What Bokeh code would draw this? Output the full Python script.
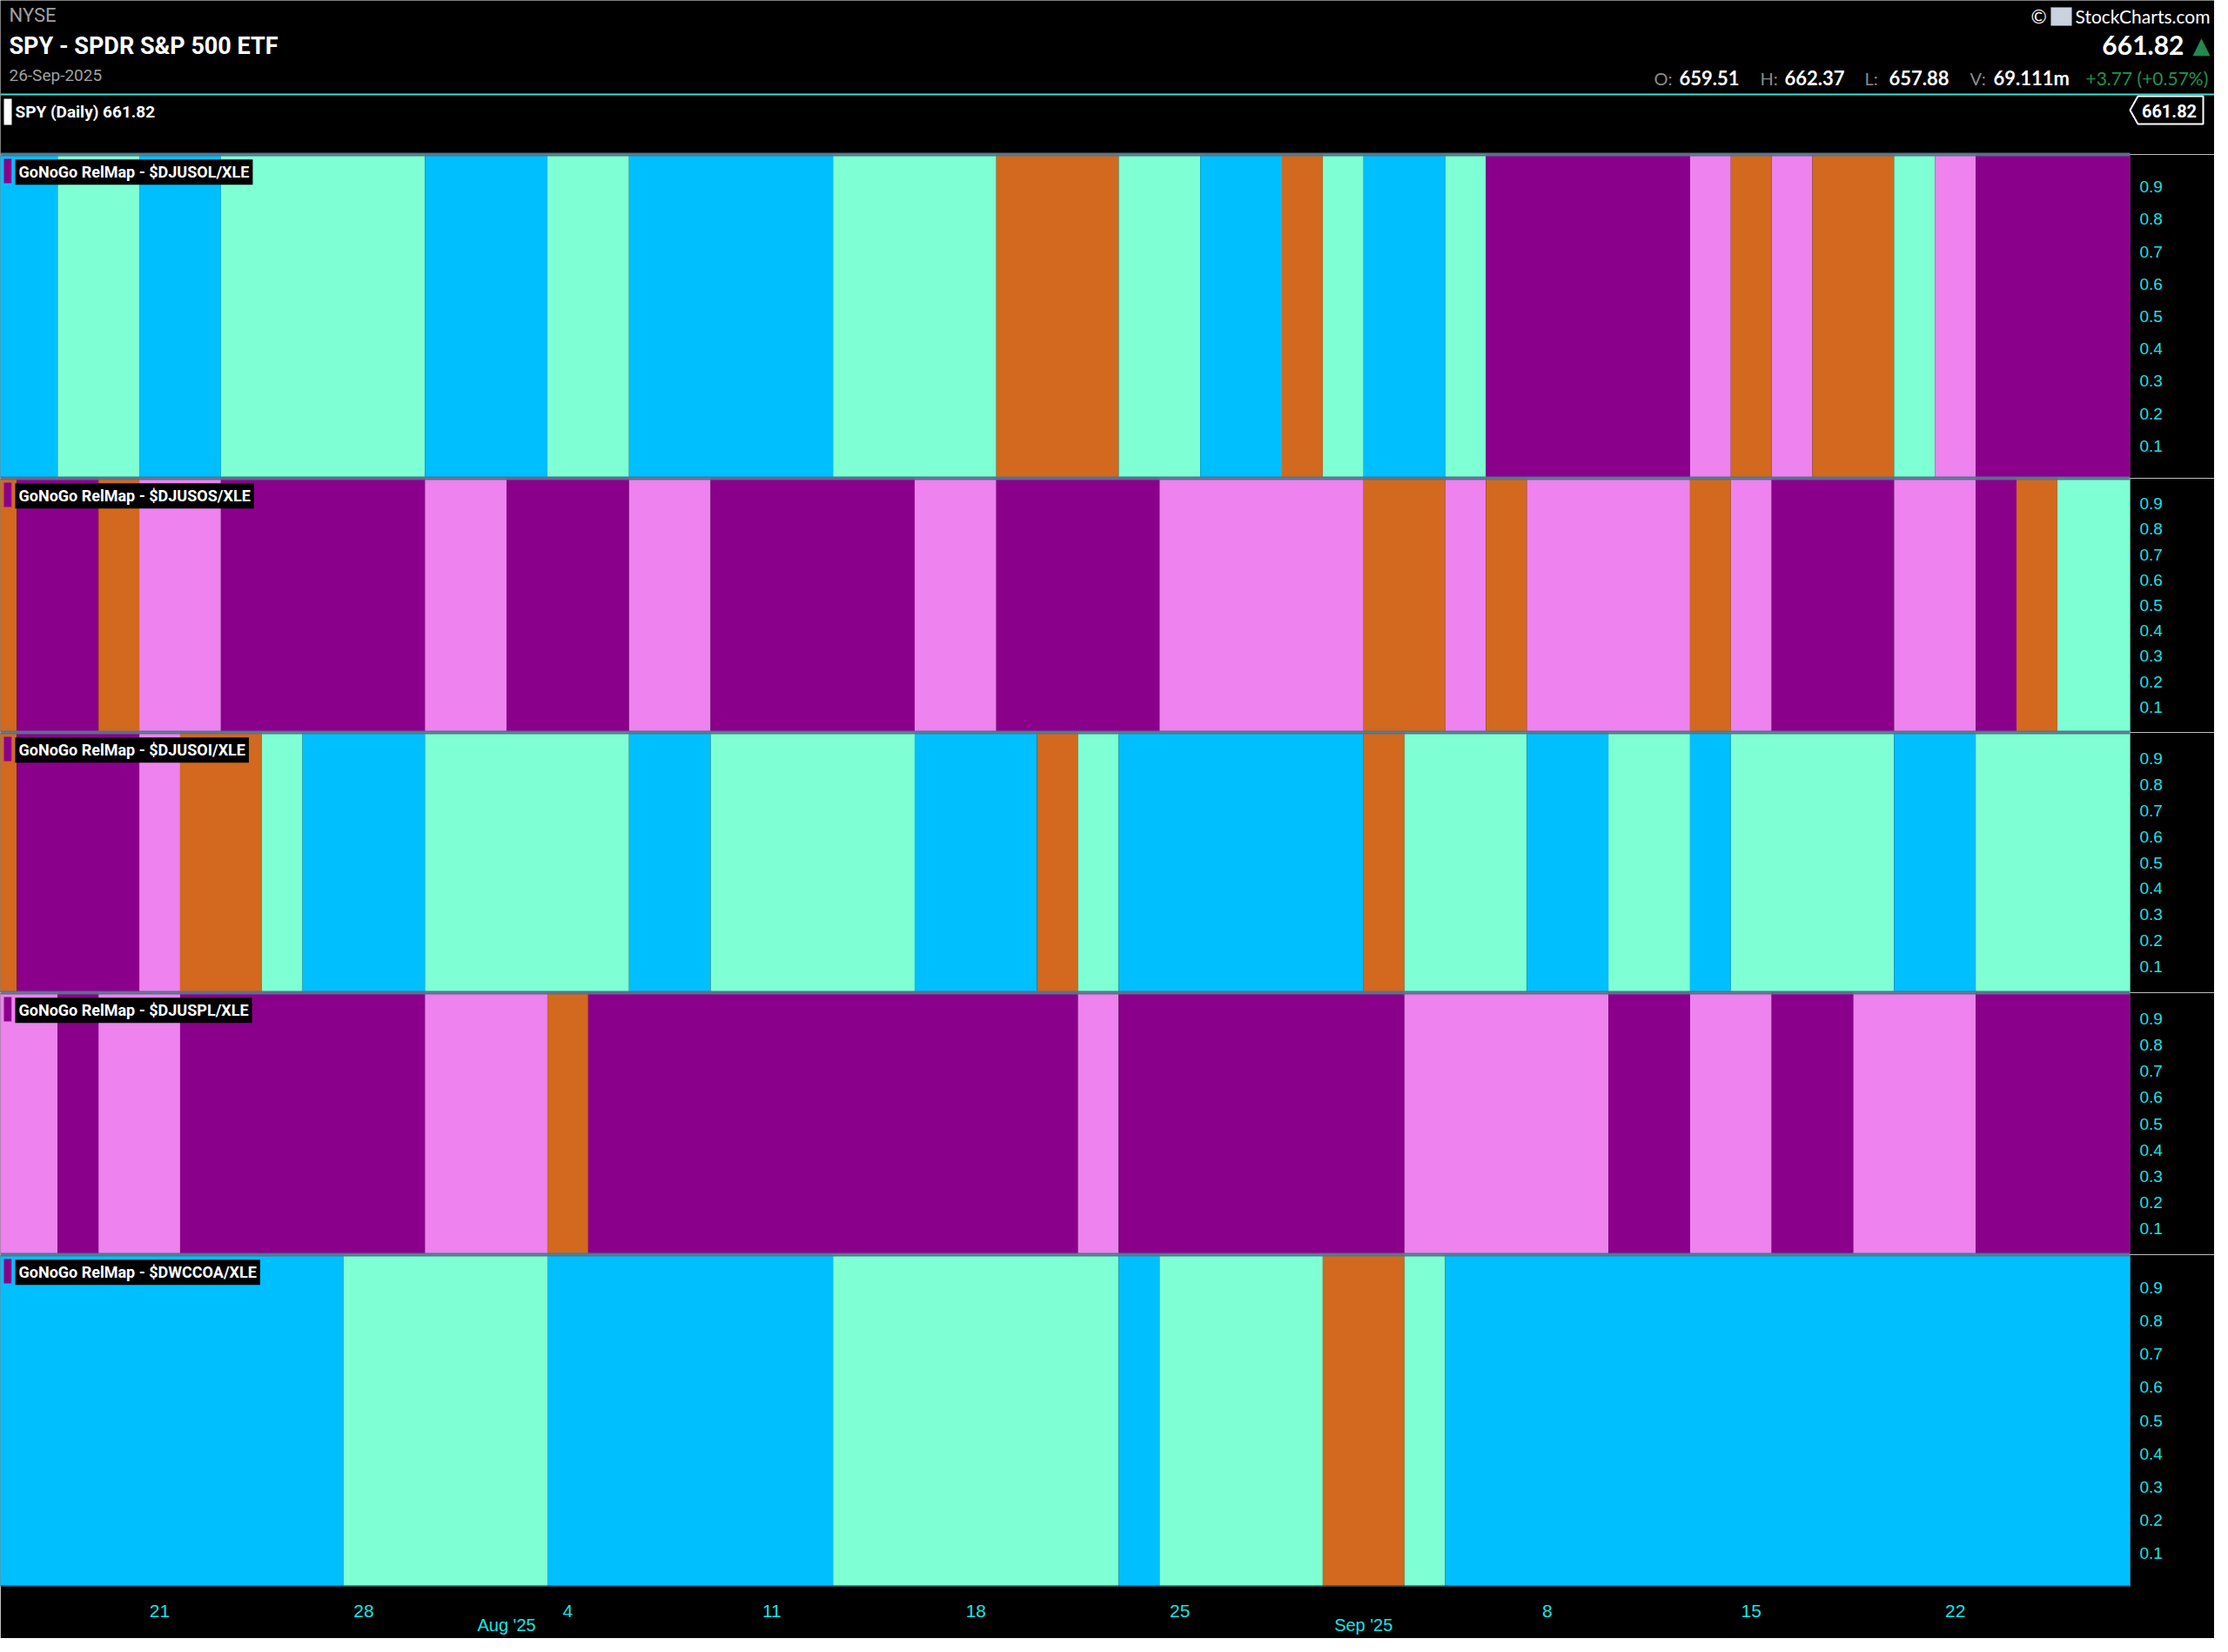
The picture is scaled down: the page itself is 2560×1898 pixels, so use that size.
import pandas as pd
from bokeh.plotting import figure
from bokeh.models import Range1d, LinearAxis, FixedTicker, Span, Label, BoxAnnotation
from bokeh.layouts import column
from bokeh.core.properties import value
from bokeh.embed import file_html
from bokeh.resources import INLINE

# ---------------- data ----------------
TRADING_DAYS = [d for d in pd.bdate_range("2025-07-15", "2025-09-26")
                if d.strftime("%m-%d") != "09-01"]          # Labor Day closed

PANEL_NAMES = ["$DJUSOL/XLE", "$DJUSOS/XLE", "$DJUSOI/XLE", "$DJUSPL/XLE", "$DWCCOA/XLE"]

# daily GoNoGo RelMap state:  B = strong Go, A = Go, O = amber, V = NoGo, M = strong NoGo
DJUSOL = "".join("BB AA BB AAAAA BBB AA BBBBB AAAA OOO AA BB O A BB A MMMMM V O V OO A V MMMM".split())
DJUSOS = "".join("O MM O VV MMMMM VV MMM VV MMMMM VV MMMM VVVVV OO V O VVVV O V MMM VV M O AA".split())
DJUSOI = "".join("O MMM V OO A BBB AAAAA BB AAAAA BBB O A BBBBBB O AAA BB AA B AAAA BB AAAA".split())
DJUSPL = "".join("VV M VV MMMMMM VVV O MMMMMMMMMMMM V MMMMMMM VVVVV MM VV MM VVV MMMM".split())
DWCCOA = "".join("BBBBBBBBB AAAAA BBBBBBB AAAAAAA B AAAA OO A BBBBBBBBBBBBBBBBB".split())
PANEL_STATES = [DJUSOL, DJUSOS, DJUSOI, DJUSPL, DWCCOA]

STATE_COLORS = {"B": "#00BFFF", "A": "#7FFFD4", "O": "#D2691E", "V": "#EE82EE", "M": "#8B008B"}

Y_TICKS = [0.1, 0.2, 0.3, 0.4, 0.5, 0.6, 0.7, 0.8, 0.9]

EXCHANGE = "NYSE"
TITLE = "SPY - SPDR S&P 500 ETF"
DATE_LABEL = "26-Sep-2025"
LAST = "661.82"
OPEN, HIGH, LOW, VOLUME = "659.51", "662.37", "657.88", "69.111m"
CHANGE = "+3.77 (+0.57%)"

# ---------------- layout / style ----------------
CYAN = "#19E3E6"
SEP = "#4D7590"
TOTAL_W = 2544
FRAME_W = 2447
RIGHT_W = TOTAL_W - FRAME_W
HEADER_H = 177
PANEL_H = [372, 292, 299, 301, 381]
AXIS_H = 60
X_START, X_END = 0.097, 52.283
PPU = FRAME_W / (X_END - X_START)

xr = Range1d(X_START, X_END)

# ---------------- header ----------------
hdr = figure(frame_width=TOTAL_W, frame_height=HEADER_H,
             x_range=Range1d(0, TOTAL_W), y_range=Range1d(HEADER_H, 0),
             x_axis_type=None, y_axis_type=None, toolbar_location=None,
             output_backend="svg", min_border=0, tools="",
             background_fill_color="black", border_fill_color="black",
             outline_line_color=None)


def htext(x, y, s, font="Roboto", size="20px", color="white", style="normal", align="left"):
    hdr.text(x=[x], y=[y], text=[s], text_font=value(font), text_font_size=value(size),
             text_color=color, text_font_style=style, text_align=align,
             text_baseline="middle")


htext(10, 17, EXCHANGE, size="22px", color="#A0A0A0")
htext(10, 52, TITLE, size="27px", style="bold")
htext(10, 86, DATE_LABEL, size="19px", color="#A0A0A0")

htext(2333, 18, "\u00a9", font="Lato", size="22px")
hdr.add_layout(BoxAnnotation(left=2356, right=2380, top=8, bottom=29,
                             fill_color="#C9D2DE", fill_alpha=1, line_color="#8090A8"))
htext(2384, 18, "StockCharts.com", font="Lato", size="21px")
htext(2509, 51, LAST, font="Lato", size="30px", style="bold", align="right")
htext(2529, 51, "\u25b2", font="DejaVu Sans", size="26px", color="#23894F", align="center")

for lx, lab, vx, val in [(1900, "O:", 1929, OPEN), (2022, "H:", 2050, HIGH),
                         (2142, "L:", 2170, LOW), (2263, "V:", 2290, VOLUME)]:
    htext(lx, 89, lab, font="Lato", size="20px", color="#8C8C8C")
    htext(vx, 89, val, font="Lato", size="22px", style="bold")
htext(2396, 89, CHANGE, font="Lato", size="21px", color="#22944F")

hdr.add_layout(Span(location=108, dimension="width", line_color="#40E0D0", line_width=2))
hdr.add_layout(BoxAnnotation(left=4, right=13, top=113, bottom=143,
                             fill_color="white", fill_alpha=1, line_color=None))
htext(17, 128, "SPY (Daily) " + LAST, size="19px", style="bold")

hdr.patch(x=[2447, 2456, 2531, 2531, 2456], y=[126, 110, 110, 142, 142],
          fill_color="black", line_color="white", line_width=2)
htext(2492, 127, LAST, size="20px", style="bold", align="center")
hdr.add_layout(BoxAnnotation(left=0, right=FRAME_W, top=175, bottom=177,
                             fill_color=SEP, fill_alpha=1, line_color=None))


# ---------------- RelMap panels ----------------
def runs(states):
    out, start = [], 0
    for i in range(1, len(states) + 1):
        if i == len(states) or states[i] != states[start]:
            out.append((start, i - 1, states[start]))
            start = i
    return out


figs = [hdr]
for k, (name, states, h) in enumerate(zip(PANEL_NAMES, PANEL_STATES, PANEL_H)):
    last = k == len(PANEL_NAMES) - 1
    size_kw = dict(height=h + AXIS_H, min_border_bottom=AXIS_H) if last else \
        dict(frame_height=h, min_border_bottom=0)
    p = figure(frame_width=FRAME_W, x_range=xr, y_range=Range1d(0, 1),
               x_axis_type=None, y_axis_type=None, toolbar_location=None, tools="",
               output_backend="svg", min_border_left=0, min_border_right=RIGHT_W,
               min_border_top=0, background_fill_color="black",
               border_fill_color="black", outline_line_color=None, **size_kw)
    r = runs(states)
    p.quad(left=[a - 0.5 for a, b, s in r], right=[b + 0.5 for a, b, s in r],
           bottom=0, top=1, fill_color=[STATE_COLORS[s] for a, b, s in r],
           line_color=None)

    yax = LinearAxis(ticker=FixedTicker(ticks=Y_TICKS), axis_line_color=None,
                     major_tick_line_color=None, minor_tick_line_color=None,
                     major_tick_out=0, major_tick_in=0, major_label_standoff=11,
                     major_label_text_color=CYAN, major_label_text_font="Liberation Sans",
                     major_label_text_font_size="19px")
    p.add_layout(yax, "right")

    p.add_layout(Span(location=1, dimension="width", line_color=SEP, line_width=4))
    if last:
        p.add_layout(Span(location=0, dimension="width", line_color="#173C4C", line_width=2))
    else:
        p.add_layout(Span(location=0, dimension="width", line_color=SEP, line_width=4))

    p.add_layout(BoxAnnotation(left=X_START + 4 / PPU, right=X_START + 12.7 / PPU,
                               top=1 - 5 / h, bottom=1 - 33 / h,
                               fill_color="#8B008B", fill_alpha=1, line_color=None))
    p.add_layout(Label(x=X_START, y=1, x_offset=17, y_offset=-5.8,
                       text="GoNoGo RelMap - " + name, text_font="Roboto",
                       text_font_style="bold", text_font_size="18px", text_color="white",
                       text_align="left", text_baseline="top",
                       background_fill_color="black", background_fill_alpha=1, padding=4))

    if last:
        day_ticks = [i for i, d in enumerate(TRADING_DAYS) if d.weekday() == 0]
        ax1 = LinearAxis(ticker=FixedTicker(ticks=day_ticks),
                         major_label_overrides={i: str(TRADING_DAYS[i].day) for i in day_ticks},
                         axis_line_color=None, major_tick_line_color=None,
                         minor_tick_line_color=None, major_tick_out=0, major_tick_in=0,
                         major_label_standoff=21, major_label_text_color=CYAN,
                         major_label_text_font="Liberation Sans",
                         major_label_text_font_size="21px")
        p.add_layout(ax1, "below")
        month_ticks = [i - 0.5 for i in range(1, len(TRADING_DAYS))
                       if TRADING_DAYS[i].month != TRADING_DAYS[i - 1].month]
        ax2 = LinearAxis(ticker=FixedTicker(ticks=month_ticks),
                         major_label_overrides={t: TRADING_DAYS[int(t + 0.5)].strftime("%b '%y")
                                                for t in month_ticks},
                         axis_line_color=None, major_tick_line_color=None,
                         minor_tick_line_color=None, major_tick_out=0, major_tick_in=0,
                         major_label_standoff=-5, major_label_text_color=CYAN,
                         major_label_text_font="Liberation Sans",
                         major_label_text_font_size="20px")
        p.add_layout(ax2, "below")
    figs.append(p)

layout = column(*figs, spacing=0)
open("out.html", "w").write(file_html(layout, INLINE))
